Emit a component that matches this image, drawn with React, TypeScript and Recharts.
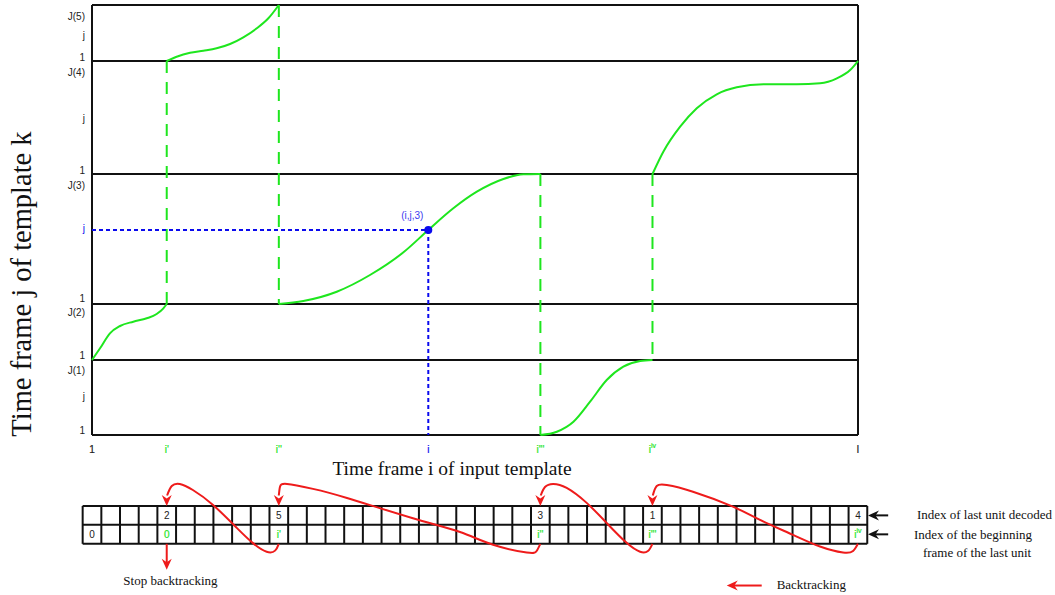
import React from "react";
import {
    ComposedChart,
    Line,
    XAxis,
    YAxis,
    ReferenceLine,
    ReferenceDot
} from "recharts";

const GREEN = "#1ee61e";
const BLUE = "#0a0aee";
const RED = "#ee1b1b";
const INK = "#222";
const SANS = "'Liberation Sans', Arial, sans-serif";
const SERIF = "'Liberation Serif', 'Times New Roman', serif";

// templates stacked on the j axis, k=1 at the bottom (frames)
const bandEdges = [0, 75, 131, 261, 374, 430];

const yTicks = [5, 39, 65, 80, 123, 137, 207, 250, 265, 317, 363, 378, 400, 419];
const yTickLabels = ["1", "j", "J(1)", "1", "J(2)", "1", "j", "J(3)", "1", "j", "J(4)", "1", "j", "J(5)"];

const kTicks = [41, 97, 189, 321, 396];
const kLabels = ["k=1", "k=2", "k=3", "k=4", "k=5"];

const xTicks = [0, 4, 10, 18, 24, 30, 41];
const xTickLabels = ["1", "i'", "i''", "i", "i'''", "i^iv", "I"];
const xTickColors = [INK, GREEN, GREEN, BLUE, GREEN, GREEN, INK];

// warping path, one piece per template visited
const pathK2 = [
    { x: 0, y: 75 }, { x: 0.43, y: 86.7 }, { x: 0.96, y: 101.7 }, { x: 1.5, y: 109 },
    { x: 2.21, y: 113.3 }, { x: 2.93, y: 116.7 }, { x: 3.46, y: 121 }, { x: 3.82, y: 126.7 },
    { x: 4, y: 131 }
];
const pathK5 = [
    { x: 4, y: 374 }, { x: 4.53, y: 378.3 }, { x: 5.25, y: 382.3 }, { x: 5.96, y: 384.3 },
    { x: 6.67, y: 386.7 }, { x: 7.39, y: 391 }, { x: 8.1, y: 397.7 }, { x: 8.82, y: 406.7 },
    { x: 9.44, y: 416.7 }, { x: 10, y: 430 }
];
const pathK3 = [
    { x: 10, y: 131 }, { x: 11.31, y: 134 }, { x: 13.1, y: 143.3 }, { x: 14.88, y: 160 },
    { x: 16.67, y: 182.7 }, { x: 18, y: 205 }, { x: 19.34, y: 226.7 }, { x: 20.6, y: 243.3 },
    { x: 22.02, y: 256 }, { x: 23.09, y: 260.7 }, { x: 24, y: 261 }
];
const pathK1 = [
    { x: 24, y: 0 }, { x: 24.88, y: 3.3 }, { x: 25.77, y: 13.3 }, { x: 26.66, y: 33.3 },
    { x: 27.55, y: 55 }, { x: 28.44, y: 68.3 }, { x: 29.34, y: 74 }, { x: 30, y: 75 }
];
const pathK4 = [
    { x: 30, y: 261 }, { x: 30.58, y: 283.3 }, { x: 31.48, y: 308.3 }, { x: 32.37, y: 326.7 },
    { x: 33.44, y: 340.7 }, { x: 34.51, y: 347.7 }, { x: 35.94, y: 350.7 }, { x: 37.72, y: 350.7 },
    { x: 38.97, y: 351.7 }, { x: 39.87, y: 356.7 }, { x: 40.58, y: 365 }, { x: 41, y: 374 }
];
const warpPaths = [pathK2, pathK5, pathK3, pathK1, pathK4];

// jumps between templates
const jumpX = [4, 10, 24, 30];
const jumpFrom = [374, 430, 261, 261];
const jumpTo = [131, 131, 0, 75];

const pointI = 18;
const pointJ = 205;

// backtracking table
const cellCount = 42;
const unitCells = [4, 10, 24, 30, 41];
const unitLabels = ["2", "5", "3", "1", "4"];
const startCells = [0, 4, 10, 24, 30, 41];
const startLabels = ["0", "0", "i'", "i''", "i'''", "i^iv"];

const back1 = [
    { x: 10, y: 0 }, { x: 9.8, y: -0.36 }, { x: 9.35, y: -0.42 }, { x: 8.6, y: 0.05 },
    { x: 7.75, y: 0.84 }, { x: 6.48, y: 2.05 }, { x: 5.4, y: 2.84 }, { x: 4.7, y: 3.16 },
    { x: 4.27, y: 3.05 }, { x: 4.02, y: 2.55 }
];
const back2 = [
    { x: 24, y: 0 }, { x: 23.8, y: -0.38 }, { x: 23.27, y: -0.46 }, { x: 21.47, y: -0.05 },
    { x: 19.7, y: 0.62 }, { x: 17.18, y: 1.35 }, { x: 13.65, y: 2.42 }, { x: 11.83, y: 2.9 },
    { x: 10.44, y: 3.16 }, { x: 10.06, y: 3.0 }, { x: 10, y: 2.55 }
];
const back3 = [
    { x: 30, y: 0 }, { x: 29.76, y: -0.38 }, { x: 29.34, y: -0.42 }, { x: 28.62, y: 0.05 },
    { x: 27.55, y: 1.1 }, { x: 26.48, y: 2.16 }, { x: 25.41, y: 2.95 }, { x: 24.68, y: 3.16 },
    { x: 24.25, y: 3.0 }, { x: 24.02, y: 2.55 }
];
const back4 = [
    { x: 41, y: 0 }, { x: 40.74, y: -0.38 }, { x: 40.2, y: -0.46 }, { x: 38.97, y: -0.14 },
    { x: 37.53, y: 0.47 }, { x: 35.76, y: 1.26 }, { x: 34.31, y: 1.96 }, { x: 32.17, y: 2.75 },
    { x: 30.77, y: 3.1 }, { x: 30.23, y: 3.05 }, { x: 30.02, y: 2.55 }
];
const backPaths = [back1, back2, back3, back4];
const backTargets = [4, 10, 24, 30];


const renderLabel = (label: string) => {
    const [base, sup] = label.split("^");
    if (!sup) return base;
    return (
        <>
            {base}
            <tspan dy={-4} fontSize={7}>{sup}</tspan>
        </>
    );
};

const textAt = (label: string, o: any = {}) => (p: any) => (
    <text
        x={p.cx + (o.dx || 0)}
        y={p.cy + (o.dy || 0)}
        textAnchor={o.anchor || "middle"}
        dominantBaseline="central"
        fontSize={o.size || 10}
        fontFamily={o.font || SANS}
        fill={o.color || INK}
        stroke={o.thin ? o.color : undefined}
        strokeWidth={o.thin ? 0.2 : undefined}
    >
        {renderLabel(label)}
    </text>
);

const headDown = (color: string) => (p: any) => (
    <path
        d={`M${p.cx},${p.cy} L${p.cx - 5},${p.cy - 11} L${p.cx},${p.cy - 7.5} L${p.cx + 5},${p.cy - 11} Z`}
        fill={color}
    />
);

const headLeft = (color: string) => (p: any) => (
    <path
        d={`M${p.cx},${p.cy} L${p.cx + 11},${p.cy - 5} L${p.cx + 7.5},${p.cy} L${p.cx + 11},${p.cy + 5} Z`}
        fill={color}
    />
);

const XTick = (p: any) => {
    const idx = xTicks.indexOf(p.payload.value);
    return (
        <text x={p.x} y={p.y} textAnchor="middle" dominantBaseline="central"
            fontSize={10} fontFamily={SANS} fill={xTickColors[idx]}
            stroke={xTickColors[idx]} strokeWidth={0.2}>
            {renderLabel(xTickLabels[idx])}
        </text>
    );
};

const YTick = (p: any) => {
    const idx = yTicks.indexOf(p.payload.value);
    return (
        <text x={p.x} y={p.y} textAnchor="end" dominantBaseline="central"
            fontSize={10} fontFamily={SANS} fill={idx === 6 ? BLUE : INK}>
            {yTickLabels[idx]}
        </text>
    );
};

const KTick = (p: any) => {
    const idx = kTicks.indexOf(p.payload.value);
    return (
        <text x={p.x} y={p.y} textAnchor="start" dominantBaseline="central"
            fontSize={10} fontFamily={SANS} fill={INK}>
            {kLabels[idx]}
        </text>
    );
};

const XTitle = (p: any) => {
    const vb = p.viewBox;
    return (
        <text x={vb.x + vb.width / 2 - 23} y={vb.y + 40} textAnchor="middle"
            fontSize={19.5} fontFamily={SERIF} fill="#111">
            Time frame i of input template
        </text>
    );
};

const YTitle = (p: any) => {
    const vb = p.viewBox;
    const cx = vb.x + 31;
    const cy = vb.y + vb.height / 2 + 64;
    return (
        <text x={cx} y={cy} transform={`rotate(-90 ${cx} ${cy})`} textAnchor="middle"
            fontSize={28.5} fontFamily={SERIF} fill="#111">
            Time frame j of template k
        </text>
    );
};


export default function App() {

    const edges = Array.from({ length: cellCount + 1 }, (_, n) => n - 0.5);

    return (
        <div style={{ position: "absolute", left: 0, top: 0, width: 1055, height: 595, background: "#fff", overflow: "hidden" }}>

            <div style={{ position: "absolute", left: 0, top: 0 }}>
                <ComposedChart width={1055} height={480} margin={{ top: 5, right: 137, bottom: 0, left: 0 }}>

                    <XAxis type="number" dataKey="x" domain={[0, 41]} ticks={xTicks} interval={0}
                        tick={<XTick />} tickSize={0} tickMargin={14} axisLine={false} tickLine={false}
                        height={45} label={{ content: XTitle }} />

                    <YAxis type="number" domain={[0, 430]} ticks={yTicks} interval={0}
                        tick={<YTick />} tickSize={0} tickMargin={7} axisLine={false} tickLine={false}
                        width={92} label={{ content: YTitle }} />

                    <YAxis yAxisId="k" orientation="right" type="number" domain={[0, 430]} ticks={kTicks}
                        interval={0} tick={<KTick />} tickSize={0} tickMargin={18} axisLine={false}
                        tickLine={false} width={60} />

                    {bandEdges.map((e) => (
                        <ReferenceLine key={"b" + e} y={e} stroke="#111" strokeWidth={2} ifOverflow="visible" />
                    ))}
                    <ReferenceLine x={0} stroke="#111" strokeWidth={2} ifOverflow="visible" />
                    <ReferenceLine x={41} stroke="#111" strokeWidth={2} ifOverflow="visible" />

                    {jumpX.map((x, i) => (
                        <ReferenceLine key={"j" + i}
                            segment={[{ x, y: Math.max(jumpFrom[i], jumpTo[i]) }, { x, y: Math.min(jumpFrom[i], jumpTo[i]) }]}
                            stroke={GREEN} strokeWidth={2} strokeDasharray="12 9" ifOverflow="visible" />
                    ))}

                    <ReferenceLine segment={[{ x: 0, y: pointJ }, { x: pointI, y: pointJ }]}
                        stroke={BLUE} strokeWidth={2} strokeDasharray="4 3" ifOverflow="visible" />
                    <ReferenceLine segment={[{ x: pointI, y: pointJ }, { x: pointI, y: 0 }]}
                        stroke={BLUE} strokeWidth={2} strokeDasharray="4 3" ifOverflow="visible" />

                    {warpPaths.map((d, i) => (
                        <Line key={"w" + i} data={d} dataKey="y" type="monotone" stroke={GREEN}
                            strokeWidth={2} dot={false} activeDot={false} isAnimationActive={false} />
                    ))}

                    <ReferenceDot x={pointI} y={pointJ} r={4} fill={BLUE} stroke="none" ifOverflow="visible" />
                    <ReferenceDot x={pointI} y={pointJ} ifOverflow="visible"
                        shape={textAt("(i,j,3)", { dx: -16, dy: -15, color: "#3c3cf0" })} />
                </ComposedChart>
            </div>

            <div style={{ position: "absolute", left: 0, top: 468 }}>
                <ComposedChart width={1055} height={127} margin={{ top: 0, right: 0, bottom: 0, left: 82.66 }}>
                    <XAxis type="number" dataKey="x" domain={[-0.5, 51.55]} hide />
                    <YAxis type="number" domain={[-2.7, 4]} hide />

                    {[0, 1, 2].map((r) => (
                        <ReferenceLine key={"r" + r} segment={[{ x: -0.5, y: r }, { x: cellCount - 0.5, y: r }]}
                            stroke="#111" strokeWidth={2} ifOverflow="visible" />
                    ))}
                    {edges.map((e) => (
                        <ReferenceLine key={"c" + e} segment={[{ x: e, y: 0 }, { x: e, y: 2 }]}
                            stroke="#111" strokeWidth={2} ifOverflow="visible" />
                    ))}

                    {unitCells.map((c, i) => (
                        <ReferenceDot key={"u" + c} x={c} y={1.5} ifOverflow="visible"
                            shape={textAt(unitLabels[i], { color: INK })} />
                    ))}
                    {startCells.map((c, i) => (
                        <ReferenceDot key={"s" + c} x={c} y={0.5} ifOverflow="visible"
                            shape={textAt(startLabels[i], { color: c === 0 ? INK : GREEN, thin: c !== 0 })} />
                    ))}

                    {backPaths.map((d, i) => (
                        <Line key={"bk" + i} data={d} dataKey="y" type="natural" stroke={RED}
                            strokeWidth={2} dot={false} activeDot={false} isAnimationActive={false} />
                    ))}
                    {backTargets.map((t) => (
                        <ReferenceDot key={"h" + t} x={t} y={2} ifOverflow="visible" shape={headDown(RED)} />
                    ))}

                    <ReferenceLine segment={[{ x: 4, y: 0 }, { x: 4, y: -1.05 }]} stroke={RED} strokeWidth={2} ifOverflow="visible" />
                    <ReferenceDot x={4} y={-1.37} ifOverflow="visible" shape={headDown(RED)} />
                    <ReferenceDot x={4.2} y={-1.95} ifOverflow="visible"
                        shape={textAt("Stop backtracking", { size: 13, font: SERIF, color: "#111" })} />

                    <ReferenceLine segment={[{ x: 35.85, y: -2.2 }, { x: 34.3, y: -2.2 }]} stroke={RED} strokeWidth={2} ifOverflow="visible" />
                    <ReferenceDot x={33.98} y={-2.2} ifOverflow="visible" shape={headLeft(RED)} />
                    <ReferenceDot x={36.65} y={-2.16} ifOverflow="visible"
                        shape={textAt("Backtracking", { size: 13, font: SERIF, color: "#111", anchor: "start" })} />

                    <ReferenceLine segment={[{ x: 42.62, y: 1.5 }, { x: 41.9, y: 1.5 }]} stroke="#111" strokeWidth={2} ifOverflow="visible" />
                    <ReferenceDot x={41.54} y={1.5} ifOverflow="visible" shape={headLeft("#111")} />
                    <ReferenceLine segment={[{ x: 42.62, y: 0.5 }, { x: 41.9, y: 0.5 }]} stroke="#111" strokeWidth={2} ifOverflow="visible" />
                    <ReferenceDot x={41.54} y={0.5} ifOverflow="visible" shape={headLeft("#111")} />

                    <ReferenceDot x={44.16} y={1.53} ifOverflow="visible"
                        shape={textAt("Index of last unit decoded", { size: 13, font: SERIF, color: "#111", anchor: "start" })} />
                    <ReferenceDot x={44.0} y={0.47} ifOverflow="visible"
                        shape={textAt("Index of the beginning", { size: 13, font: SERIF, color: "#111", anchor: "start" })} />
                    <ReferenceDot x={44.48} y={-0.47} ifOverflow="visible"
                        shape={textAt("frame of the last unit", { size: 13, font: SERIF, color: "#111", anchor: "start" })} />
                </ComposedChart>
            </div>

        </div>
    );
}
